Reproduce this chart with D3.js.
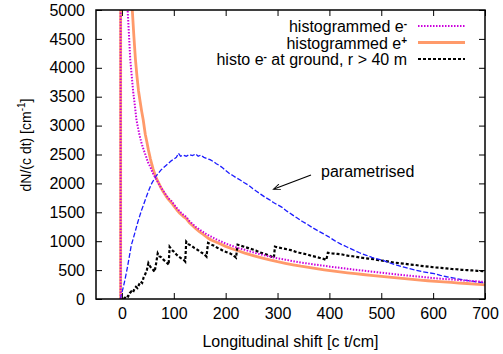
<!DOCTYPE html>
<html>
<head>
<meta charset="utf-8">
<script src="https://cdn.jsdelivr.net/npm/d3@7/dist/d3.min.js"></script>
<style>
  body { margin: 0; background: #fff; }
  text { font-family: "Liberation Sans", Arial, Helvetica, sans-serif; }
</style>
</head>
<body>
<div id="chart"></div>
<script>
// tick values
const xTickValues = [0, 100, 200, 300, 400, 500, 600, 700];
const yTickValues = [0, 500, 1000, 1500, 2000, 2500, 3000, 3500, 4000, 4500, 5000];

// histogrammed e- : [shift, dN/(c dt)]
const electrons = [
  [-2.5, 0], [-2.5, 30000], [11, 5000], [14, 4500], [16, 4150], [18, 3950], [20, 3750],
  [22, 3560], [24, 3420], [26, 3260], [28, 3100], [31, 2960], [34, 2830], [38, 2690],
  [42, 2580], [46, 2480], [50, 2370], [55, 2280], [60, 2170], [65, 2090], [70, 2010],
  [75, 1930], [80, 1870], [85, 1800], [90, 1740], [95, 1700], [100, 1640], [106, 1570],
  [112, 1510], [118, 1460], [124, 1420], [130, 1350], [136, 1300], [142, 1250], [150, 1200],
  [158, 1150], [165, 1110], [172, 1080], [180, 1040], [190, 1000], [200, 960], [212, 920],
  [225, 880], [237, 850], [250, 815], [262, 785], [275, 755], [287, 730], [300, 705],
  [315, 680], [330, 655], [345, 630], [360, 612], [375, 592], [390, 575], [405, 555],
  [420, 540], [435, 522], [450, 505], [465, 492], [480, 475], [500, 455], [515, 440],
  [530, 425], [545, 410], [560, 398], [575, 385], [590, 372], [605, 358], [620, 348],
  [635, 338], [650, 326], [665, 318], [680, 308], [695, 298], [700, 295]
];

// histogrammed e+
const positrons = [
  [-2.5, 0], [-2.5, 30000], [20, 5000], [23, 4550], [26, 4150], [29, 3850], [32, 3600],
  [35, 3420], [38, 3250], [41, 3100], [45, 2850], [48, 2720], [51, 2580], [55, 2420],
  [60, 2250], [65, 2120], [70, 2020], [75, 1930], [80, 1850], [85, 1780], [90, 1720],
  [95, 1670], [100, 1610], [106, 1540], [112, 1480], [118, 1430], [124, 1390], [130, 1320],
  [136, 1270], [142, 1220], [150, 1160], [158, 1110], [165, 1060], [172, 1020], [180, 990],
  [190, 950], [200, 910], [212, 870], [225, 830], [237, 795], [250, 760], [262, 730],
  [275, 700], [287, 672], [300, 645], [315, 618], [330, 592], [345, 568], [360, 548],
  [375, 525], [390, 505], [405, 485], [420, 468], [435, 452], [450, 438], [465, 424],
  [480, 410], [500, 392], [515, 378], [530, 365], [545, 352], [560, 340], [575, 328],
  [590, 316], [605, 305], [620, 295], [635, 286], [650, 276], [665, 268], [680, 258],
  [695, 250], [700, 246]
];

// histo e- at ground, r > 40 m
const groundElectrons = [
  [3, 0], [6, 20], [9, 60], [12, 45], [15, 100], [18, 130], [21, 110], [24, 170],
  [27, 210], [30, 190], [33, 250], [36, 300], [39, 280], [42, 380], [45, 430], [48, 500],
  [51, 620], [54, 570], [57, 530], [60, 505], [63, 470], [66, 620], [69, 790], [72, 740],
  [76, 720], [80, 680], [84, 650], [88, 615], [90, 590], [92, 900], [96, 850], [100, 820],
  [105, 770], [110, 730], [115, 700], [120, 670], [122, 650], [124, 990], [128, 950],
  [134, 920], [140, 880], [146, 850], [152, 810], [158, 780], [163, 735], [166, 970],
  [172, 940], [178, 920], [184, 885], [190, 860], [196, 830], [202, 810], [208, 790],
  [214, 760], [220, 715], [223, 940], [230, 920], [237, 900], [244, 880], [251, 860],
  [258, 840], [265, 810], [272, 790], [279, 770], [286, 745], [293, 715], [295, 905],
  [302, 890], [310, 875], [318, 860], [326, 845], [334, 820], [342, 800], [350, 785],
  [358, 770], [366, 745], [374, 730], [382, 710], [390, 690], [394, 675], [397, 800],
  [405, 790], [415, 780], [425, 770], [435, 750], [445, 740], [455, 725], [465, 710],
  [475, 700], [485, 690], [495, 670], [505, 660], [515, 645], [525, 630], [535, 620],
  [545, 610], [555, 595], [565, 590], [575, 575], [585, 565], [595, 555], [605, 545],
  [615, 540], [625, 530], [635, 520], [645, 515], [655, 505], [665, 500], [675, 495],
  [685, 488], [695, 482], [700, 480]
];

// parametrised
const parametrised = [
  [-3, 0], [0, 110], [3, 220], [6, 340], [10, 520], [14, 720], [18, 930], [22, 1050],
  [26, 1180], [30, 1310], [34, 1430], [38, 1540], [42, 1640], [46, 1740], [50, 1840],
  [54, 1930], [58, 2010], [62, 2070], [66, 2130], [70, 2170], [75, 2230], [80, 2270],
  [85, 2310], [90, 2350], [95, 2390], [100, 2420], [105, 2450], [109, 2520], [113, 2470],
  [118, 2490], [124, 2470], [130, 2500], [136, 2480], [142, 2510], [147, 2470], [152, 2490],
  [158, 2450], [164, 2430], [170, 2410], [176, 2380], [182, 2340], [188, 2310], [194, 2270],
  [199, 2230], [206, 2180], [213, 2140], [220, 2100], [228, 2060], [236, 2010], [244, 1970],
  [252, 1910], [260, 1860], [268, 1810], [276, 1760], [284, 1720], [292, 1670], [300, 1630],
  [308, 1590], [318, 1520], [328, 1460], [338, 1400], [348, 1340], [358, 1290], [368, 1230],
  [378, 1180], [388, 1130], [398, 1080], [410, 1010], [422, 950], [434, 900], [446, 850],
  [458, 800], [470, 760], [482, 720], [494, 690], [506, 660], [518, 620], [530, 585],
  [542, 555], [554, 525], [566, 500], [578, 475], [590, 455], [602, 440], [614, 410],
  [626, 385], [638, 365], [650, 345], [662, 325], [674, 310], [686, 295], [700, 280]
];

const width = 503, height = 354;
const plotLeft = 96, plotRight = 485, plotTop = 10, plotBottom = 299;

const svg = d3.select("#chart").append("svg")
  .attr("width", width)
  .attr("height", height);

const x = d3.scaleLinear().domain([-50, 700]).range([plotLeft, plotRight]);
const y = d3.scaleLinear().domain([0, 5000]).range([plotBottom, plotTop]);

const defs = svg.append("defs");
defs.append("clipPath").attr("id", "plotClip")
  .append("rect")
  .attr("x", plotLeft).attr("y", plotTop)
  .attr("width", plotRight - plotLeft).attr("height", plotBottom - plotTop);

// axes, ticks pointing inward like gnuplot
const fontSize = 16;
const plain = d3.format("d");
svg.append("g")
  .attr("transform", "translate(0," + plotBottom + ")")
  .call(d3.axisBottom(x).tickValues(xTickValues).tickFormat(plain).tickSize(-6).tickPadding(9));
svg.append("g")
  .attr("transform", "translate(0," + plotTop + ")")
  .call(d3.axisTop(x).tickValues(xTickValues).tickSize(-6).tickFormat(""));
svg.append("g")
  .attr("transform", "translate(" + plotLeft + ",0)")
  .call(d3.axisLeft(y).tickValues(yTickValues).tickFormat(plain).tickSize(-6).tickPadding(11));
svg.append("g")
  .attr("transform", "translate(" + plotRight + ",0)")
  .call(d3.axisRight(y).tickValues(yTickValues).tickSize(-6).tickFormat(""));

svg.selectAll(".domain").remove();
svg.selectAll(".tick line").attr("stroke", "#000").attr("stroke-width", 1);
svg.selectAll(".tick text")
  .attr("font-size", fontSize)
  .attr("font-family", "Liberation Sans, Arial, sans-serif")
  .attr("fill", "#000");

const line = d3.line()
  .x(d => x(d[0]))
  .y(d => y(d[1]));

const plot = svg.append("g").attr("clip-path", "url(#plotClip)");

plot.append("path").datum(positrons)
  .attr("d", line).attr("fill", "none")
  .attr("stroke", "#ff9a6a").attr("stroke-width", 2.8)
  .attr("stroke-linejoin", "round");

plot.append("path").datum(groundElectrons)
  .attr("d", line).attr("fill", "none")
  .attr("stroke", "#000").attr("stroke-width", 2.2)
  .attr("stroke-dasharray", "3,2");

plot.append("path").datum(parametrised)
  .attr("d", line).attr("fill", "none")
  .attr("stroke", "#1c1cff").attr("stroke-width", 1.3)
  .attr("stroke-dasharray", "5,2");

plot.append("path").datum(electrons)
  .attr("d", line).attr("fill", "none")
  .attr("stroke", "#cc00dd").attr("stroke-width", 2)
  .attr("stroke-dasharray", "1.5,1.5");

// frame
svg.append("rect")
  .attr("x", plotLeft).attr("y", plotTop)
  .attr("width", plotRight - plotLeft).attr("height", plotBottom - plotTop)
  .attr("fill", "none").attr("stroke", "#000").attr("stroke-width", 1.5);

// axis titles
svg.append("text")
  .attr("x", (plotLeft + plotRight) / 2).attr("y", 347)
  .attr("text-anchor", "middle").attr("font-size", fontSize)
  .text("Longitudinal shift [c t/cm]");

const yLabel = svg.append("text")
  .attr("transform", "translate(31,145) rotate(-90)")
  .attr("text-anchor", "middle").attr("font-size", 14);
yLabel.append("tspan").text("dN/(c dt) [cm");
yLabel.append("tspan").attr("dy", -6).attr("font-size", 10).text("-1");
yLabel.append("tspan").attr("dy", 6).text("]");

// legend
const legend = [
  { pre: "histogrammed e", sup: "-", post: "", color: "#cc00dd", w: 2, dash: "1.5,1.5" },
  { pre: "histogrammed e", sup: "+", post: "", color: "#ff9a6a", w: 2.8, dash: null },
  { pre: "histo e", sup: "-", post: " at ground, r > 40 m", color: "#000", w: 2, dash: "3,2" }
];
legend.forEach((d, i) => {
  const by = 32 + i * 16.5;
  const t = svg.append("text")
    .attr("x", 407).attr("y", by)
    .attr("text-anchor", "end").attr("font-size", fontSize);
  t.append("tspan").text(d.pre);
  t.append("tspan").attr("dy", -5).attr("font-size", 10).attr("font-weight", "bold").text(d.sup);
  if (d.post) t.append("tspan").attr("dy", 5).text(d.post);
  svg.append("line")
    .attr("x1", 418).attr("x2", 465)
    .attr("y1", by - 6).attr("y2", by - 6)
    .attr("stroke", d.color).attr("stroke-width", d.w)
    .attr("stroke-dasharray", d.dash);
});

// annotation
defs.append("marker")
  .attr("id", "arrowHead").attr("viewBox", "0 0 10 10")
  .attr("refX", 9).attr("refY", 5)
  .attr("markerWidth", 9).attr("markerHeight", 7)
  .attr("markerUnits", "userSpaceOnUse")
  .attr("orient", "auto")
  .append("path").attr("d", "M0,1 L10,5 L0,9").attr("fill", "none").attr("stroke", "#000").attr("stroke-width", 1.3);

svg.append("line")
  .attr("x1", 311).attr("y1", 175)
  .attr("x2", 274).attr("y2", 189)
  .attr("stroke", "#000").attr("stroke-width", 1.2)
  .attr("marker-end", "url(#arrowHead)");

svg.append("text")
  .attr("x", 321).attr("y", 177)
  .attr("font-size", fontSize)
  .text("parametrised");
</script>
</body>
</html>
